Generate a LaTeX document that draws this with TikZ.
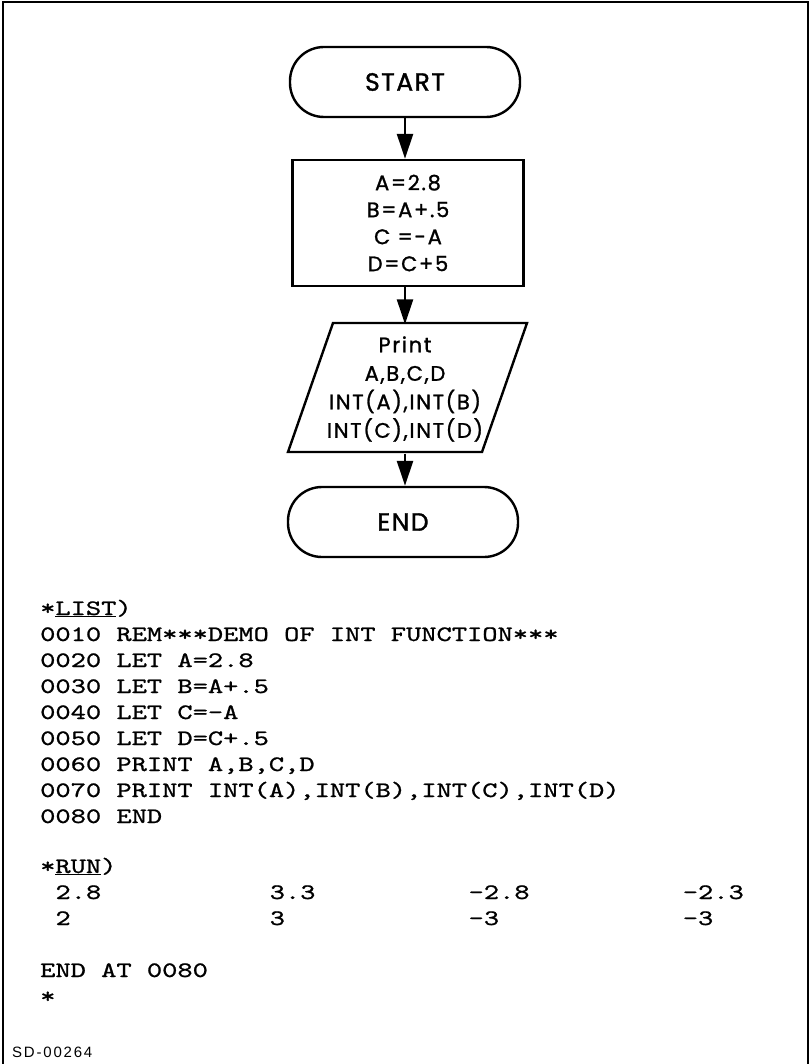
\documentclass[tikz,border=0pt]{standalone}
\usepackage{fontspec}
\usepackage{graphicx}
\usetikzlibrary{arrows.meta}
\newfontfamily\fcfont{Poppins}[LetterSpace=8,FakeBold=1.2]
\newfontfamily\stfont{Poppins}[LetterSpace=6,FakeBold=1.4]
\newfontfamily\sdfont{Liberation Sans}[LetterSpace=12]
\newfontfamily\codefont{lmmono10-regular.otf}[FakeBold=0.8]
\newcommand\tline[1]{\scalebox{1.32}[1]{\codefont\fontsize{22}{22}\selectfont #1}}
\begin{document}
\begin{tikzpicture}[x=1pt,y=-1pt,
  shapeline/.style={draw, line width=2.4pt},
  term/.style={shapeline, rectangle, rounded corners=34pt, minimum width=230pt, minimum height=70pt, inner sep=0pt, font=\stfont\fontsize{25}{25}\selectfont},
  proc/.style={shapeline, rectangle, minimum width=231pt, minimum height=126pt, inner sep=0pt, align=center, font=\fcfont\fontsize{21}{27}\selectfont},
  io/.style={rectangle, minimum width=150pt, minimum height=129pt, inner sep=0pt, align=center, font=\fcfont\fontsize{21}{28.5}\selectfont},
  arr/.style={line width=2.4pt, -{Triangle[length=25pt,width=16pt]}},
  code/.style={anchor=base west, inner sep=0pt},
  frame/.style={line width=2pt}
]
\useasboundingbox (0,0) rectangle (811,1064);
\draw[frame] (3,1064) -- (3,2) -- (808,2) -- (808,1064);

\node[term] (start) at (405,82) {START};
\node[proc] (assign) at (408,223) {A=2.8\\B=A+.5\\C =-A\\D=C+5};
\node[io] (print) at (405,389) {Print\\A,B,C,D\\INT(A),INT(B)\\INT(C),INT(D)};
\draw[shapeline] (333,323) -- (527,323) -- (482,452) -- (288,452) -- cycle;
\node[term] (end) at (403,522) {END};

\draw[arr] (start.south) -- (start.south |- assign.north);
\draw[arr] (assign.south -| start.south) -- (print.north);
\draw[arr] (print.south) -- (print.south |- end.north);

\node[code] (c0) at (40,615) {\tline{*\underline{LIST})}};
\node[code] (c1) at (40,641) {\tline{0010 REM***DEMO OF INT FUNCTION***}};
\node[code] (c2) at (40,667) {\tline{0020 LET A=2.8}};
\node[code] (c3) at (40,693) {\tline{0030 LET B=A+.5}};
\node[code] (c4) at (40,719) {\tline{0040 LET C=-A}};
\node[code] (c5) at (40,745) {\tline{0050 LET D=C+.5}};
\node[code] (c6) at (40,771) {\tline{0060 PRINT A,B,C,D}};
\node[code] (c7) at (40,797) {\tline{0070 PRINT INT(A),INT(B),INT(C),INT(D)}};
\node[code] (c8) at (40,823) {\tline{0080 END}};

\node[code] (r0) at (40,873) {\tline{*\underline{RUN})}};
\node[code] (r11) at (55.3,899) {\tline{2.8}};
\node[code] (r12) at (269.5,899) {\tline{3.3}};
\node[code] (r13) at (468.4,899) {\tline{-2.8}};
\node[code] (r14) at (682.6,899) {\tline{-2.3}};
\node[code] (r21) at (55.3,925) {\tline{2}};
\node[code] (r22) at (269.5,925) {\tline{3}};
\node[code] (r23) at (468.4,925) {\tline{-3}};
\node[code] (r24) at (682.6,925) {\tline{-3}};

\node[code] (e0) at (40,977) {\tline{END AT 0080}};
\node[code] (e1) at (40,1003) {\tline{*}};

\node[code, font=\sdfont\fontsize{15}{15}\selectfont] (sd) at (12,1057) {SD-00264};
\end{tikzpicture}
\end{document}
